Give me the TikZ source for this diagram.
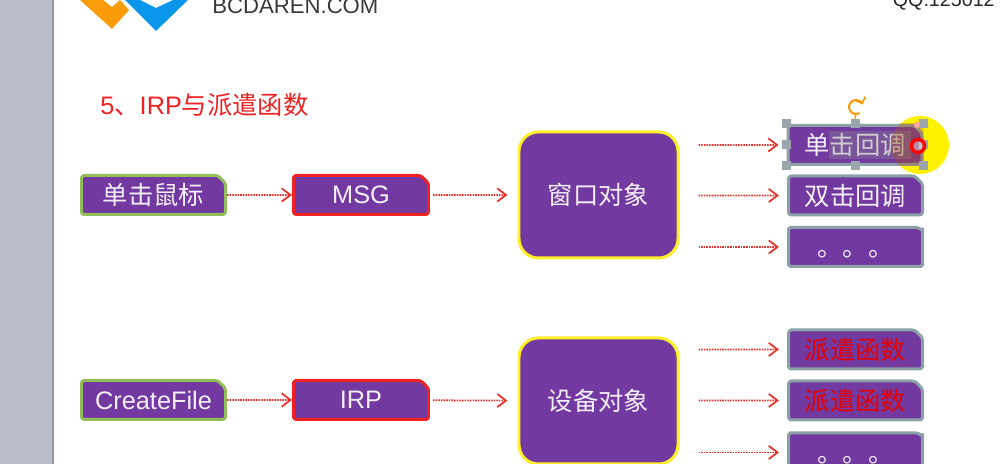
\documentclass[tikz,border=0pt]{standalone}
\usepackage{xcolor}
\usepackage{fontspec}
\setmainfont{Liberation Sans}
\newfontfamily\cjk{Noto Sans CJK SC}
\usepackage{tikz}
\usetikzlibrary{shapes.geometric,shapes.misc,arrows.meta,bending,positioning}
\definecolor{boxpurple}{RGB}{114,57,160}
\definecolor{srcgreen}{RGB}{146,190,90}
\definecolor{msgred}{RGB}{238,34,34}
\definecolor{objyellow}{RGB}{255,238,40}
\definecolor{cbgray}{RGB}{140,160,168}
\definecolor{sidegray}{RGB}{185,188,201}
\definecolor{arrowred}{RGB}{232,50,42}
\definecolor{handlegray}{RGB}{155,166,172}
\definecolor{logoorange}{RGB}{250,155,10}
\definecolor{logoblue}{RGB}{10,150,235}
\definecolor{spottint}{RGB}{180,90,0}

\begin{document}
\begin{tikzpicture}[
  basebox/.style={chamfered rectangle,chamfered rectangle corners=north east,
    chamfered rectangle xsep=2.2pt,chamfered rectangle ysep=2.2pt,
    rounded corners=1.5pt,
    fill=boxpurple,line width=1.7pt,line join=round,inner sep=0pt,
    text=white!92!boxpurple,font=\fontsize{14.4}{16}\selectfont,
    minimum height=0.78cm},
  srcbox/.style={basebox,draw=srcgreen,minimum width=2.88cm},
  msgbox/.style={basebox,draw=msgred,minimum width=2.70cm},
  cbbox/.style={basebox,draw=cbgray,minimum width=2.68cm},
  objbox/.style={rectangle,rounded corners=11pt,draw=objyellow,fill=boxpurple,
    line width=1.7pt,minimum width=3.18cm,minimum height=2.52cm,
    text=white!92!boxpurple,font=\fontsize{14.4}{16}\selectfont},
  arrow/.style={-{Straight Barb[length=5pt,width=7.5pt,line width=1pt]},
    dash pattern=on 0.9pt off 0.6pt,line width=1pt,color=arrowred},
  handle/.style={rectangle,fill=handlegray,inner sep=0pt,minimum size=0.18cm}
]
\useasboundingbox (0,0) rectangle (20,9.28);

% slide edge and logo
\fill[sidegray] (0,0) rectangle (1.04,9.28);
\fill[sidegray!80!black] (1.04,0) rectangle (1.08,9.28);
\fill[logoorange] (1.60,9.28) -- (2.24,8.70) -- (2.58,9.08) -- (2.40,9.28) -- (2.24,9.14) -- (2.06,9.28) -- cycle;
\fill[logoblue] (2.50,9.28) -- (3.12,8.66) -- (3.76,9.28) -- (3.46,9.28) -- (3.12,9.12) -- (2.80,9.28) -- cycle;
\node[anchor=base west,inner sep=0pt,text=black!78,font=\fontsize{12.6}{14}\selectfont] (site) at (4.24,9.00) {BCDAREN.COM};
\node[anchor=base east,inner sep=0pt,text=black!85,font=\fontsize{11.2}{13}\selectfont] (qq) at (19.90,9.14) {QQ:125012};

% title
\node[anchor=base west,inner sep=0pt,text=msgred,font=\fontsize{14.4}{16}\selectfont] (title) at (2.00,6.98) {5{\cjk 、}IRP{\cjk 与派遣函数}};

% yellow spot under the selected box
\fill[yellow] (18.40,6.38) circle (0.58);

% upper row
\node[srcbox] (click) at (3.07,5.38) {\cjk 单击鼠标};
\node[msgbox] (msg) at (7.22,5.38) {MSG};
\node[objbox] (win) at (11.97,5.38) {\cjk 窗口对象};
\node[cbbox] (one) at (17.10,6.38) {\cjk 单击回调};
\node[cbbox] (two) at (17.11,5.37) {\cjk 双击回调};
\node[cbbox] (more) at (17.11,4.34) {\raisebox{-5.5pt}[0pt][0pt]{\cjk 。。。}};

% lower row
\node[srcbox] (create) at (3.07,1.28) {CreateFile};
\node[msgbox] (irp) at (7.22,1.28) {IRP};
\node[objbox] (dev) at (11.97,1.26) {\cjk 设备对象};
\node[cbbox,text=red!90!black] (dispa) at (17.11,2.29) {\cjk 派遣函数};
\node[cbbox,text=red!90!black] (dispb) at (17.11,1.27) {\cjk 派遣函数};
\node[cbbox] (moreb) at (17.11,0.23) {\raisebox{-5.5pt}[0pt][0pt]{\cjk 。。。}};

\draw[arrow] (click) -- (msg);
\draw[arrow,shorten <=0.06cm,shorten >=0.2cm] (msg) -- (win);
\draw[arrow,shorten <=0.38cm,shorten >=0.16cm] (win.east |- one) -- (one);
\draw[arrow,shorten <=0.38cm,shorten >=0.16cm] (win.east |- two) -- (two);
\draw[arrow,shorten <=0.38cm,shorten >=0.16cm] (win.east |- more) -- (more);

\draw[arrow] (create) -- (irp);
\draw[arrow,shorten <=0.06cm,shorten >=0.2cm] (irp) -- (dev);
\draw[arrow,shorten <=0.38cm,shorten >=0.16cm] (dev.east |- dispa) -- (dispa);
\draw[arrow,shorten <=0.38cm,shorten >=0.16cm] (dev.east |- dispb) -- (dispb);
\draw[arrow,shorten <=0.38cm,shorten >=0.16cm] (dev.east |- moreb) -- (moreb);

% selection on the first callback box
\node[fill=black!45!white,fill opacity=0.35,minimum width=1.64cm,minimum height=0.56cm,inner sep=0pt] (sel) at (17.40,6.38) {};
\begin{scope}
\clip (one.south west) rectangle (one.east |- one.north);
\fill[spottint,opacity=0.3] (18.40,6.38) circle (0.58);
\end{scope}
\node[handle] (hnw) at (one.north west) {};
\node[handle] (hn) at (one.north) {};
\node[handle] (hne) at (one.east |- one.north) {};
\node[handle] (hw) at (one.west) {};
\node[handle] (he) at (one.east) {};
\node[handle] (hsw) at (one.south west) {};
\node[handle] (hs) at (one.south) {};
\node[handle] (hse) at (one.south east) {};
\node[circle,fill=red!35!white,inner sep=0pt,minimum size=0.12cm] (hpin) at (18.34,6.78) {};
\coordinate (rot) at (17.12,7.14);
\draw[logoorange,line width=0.9pt,shorten >=0.14cm] (hn) -- (rot);
\draw[-{Straight Barb[length=3pt,width=6pt,line width=1pt,flex=0]},logoorange,line width=1.2pt] (rot) ++(-60:0.14) arc[start angle=-60,end angle=-340,radius=0.14];
\node[ellipse,draw=red,fill=white,fill opacity=0.4,line width=2pt,inner sep=0pt,minimum width=0.26cm,minimum height=0.26cm] (cursor) at (18.36,6.36) {};
\end{tikzpicture}
\end{document}
